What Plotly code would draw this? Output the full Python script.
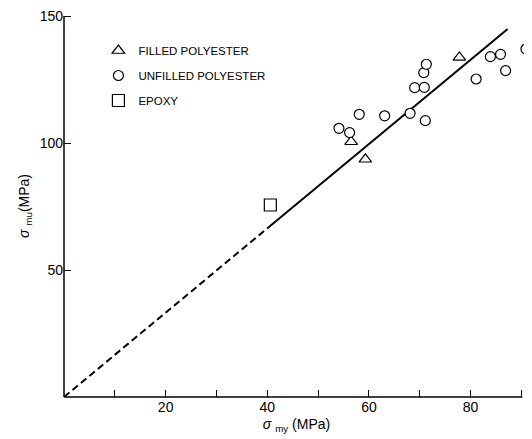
import plotly.graph_objects as go

# Data
filled_x = [56.5, 59.3, 77.8]
filled_y = [100.5, 93.6, 133.7]

unfilled_x = [54.1, 56.2, 58.1, 63.1, 68.1, 71.1, 69.0, 70.9, 70.8, 71.3, 81.1, 83.9, 85.9, 86.9, 90.9]
unfilled_y = [105.8, 104.1, 111.3, 110.7, 111.7, 108.8, 121.8, 121.9, 127.7, 131.0, 125.2, 134.0, 134.9, 128.5, 137.0]

epoxy_x = [40.6]
epoxy_y = [75.6]

fit_slope = 1.66
dashed_x = [0, 40.5]
solid_x = [40.5, 87.3]

x_ticks = [20, 40, 60, 80]
y_ticks = [50, 100, 150]
x_axis_end = 90.2
y_axis_end = 150

FONT = "Liberation Sans, Arial, sans-serif"

fig = go.Figure()

fig.add_trace(go.Scatter(
    x=dashed_x, y=[fit_slope * v for v in dashed_x], mode="lines",
    line=dict(color="black", width=2, dash="7px,4px"), showlegend=False,
    hoverinfo="skip"))
fig.add_trace(go.Scatter(
    x=solid_x, y=[fit_slope * v for v in solid_x], mode="lines",
    line=dict(color="black", width=2), showlegend=False, hoverinfo="skip"))

fig.add_trace(go.Scatter(
    x=filled_x, y=filled_y, mode="markers", name="FILLED POLYESTER",
    legendgroup="a",
    marker=dict(symbol="triangle-up", size=11, color="white",
                line=dict(color="black", width=1.2)),
    cliponaxis=False))
fig.add_trace(go.Scatter(
    x=unfilled_x, y=unfilled_y, mode="markers", name="UNFILLED POLYESTER",
    legendgroup="b",
    marker=dict(symbol="circle", size=10, color="white",
                line=dict(color="black", width=1.2)),
    cliponaxis=False))
fig.add_trace(go.Scatter(
    x=epoxy_x, y=epoxy_y, mode="markers", name="EPOXY",
    legendgroup="c",
    marker=dict(symbol="square", size=12, color="white",
                line=dict(color="black", width=1.2)),
    cliponaxis=False))

# axis lines stop at the last tick, as in the reference
fig.add_shape(type="line", xref="x", yref="paper", x0=0, x1=x_axis_end,
              y0=0, y1=0, line=dict(color="black", width=1.5), layer="above")
fig.add_shape(type="line", xref="paper", yref="y", x0=0, x1=0,
              y0=0, y1=y_axis_end, line=dict(color="black", width=1.5),
              layer="above")

# The page body adds an 8px offset, so the figure is sized to fit the window.
fig.update_layout(
    width=524, height=431,
    margin=dict(l=56, r=3, t=7, b=42),
    paper_bgcolor="white", plot_bgcolor="white",
    font=dict(family=FONT, color="black", size=14),
    legend=dict(x=0.074, y=0.945, xanchor="left", yanchor="top",
                font=dict(size=11.5), bgcolor="rgba(0,0,0,0)",
                traceorder="grouped", tracegroupgap=6),
    xaxis=dict(range=[0, 91.5], tickvals=x_ticks, ticks="inside", ticklen=7,
               tickcolor="black", tickwidth=1.2, automargin=False,
               ticklabeloverflow="allow",
               minor=dict(dtick=10, tick0=0, ticks="inside", ticklen=7,
                          tickcolor="black", tickwidth=1.2),
               showline=False, showgrid=False, zeroline=False,
               title=dict(text="<i>σ</i> <sub>my</sub> (MPa)", standoff=5,
                          font=dict(size=14))),
    yaxis=dict(range=[0, 150.4], tickvals=y_ticks, ticks="inside", ticklen=7,
               tickcolor="black", tickwidth=1.2, automargin=False,
               ticklabeloverflow="allow",
               showline=False, showgrid=False, zeroline=False,
               title=dict(text="<i>σ</i> <sub>mu</sub>(MPa)", standoff=6,
                          font=dict(size=14))),
)

fig.write_html("out.html")
